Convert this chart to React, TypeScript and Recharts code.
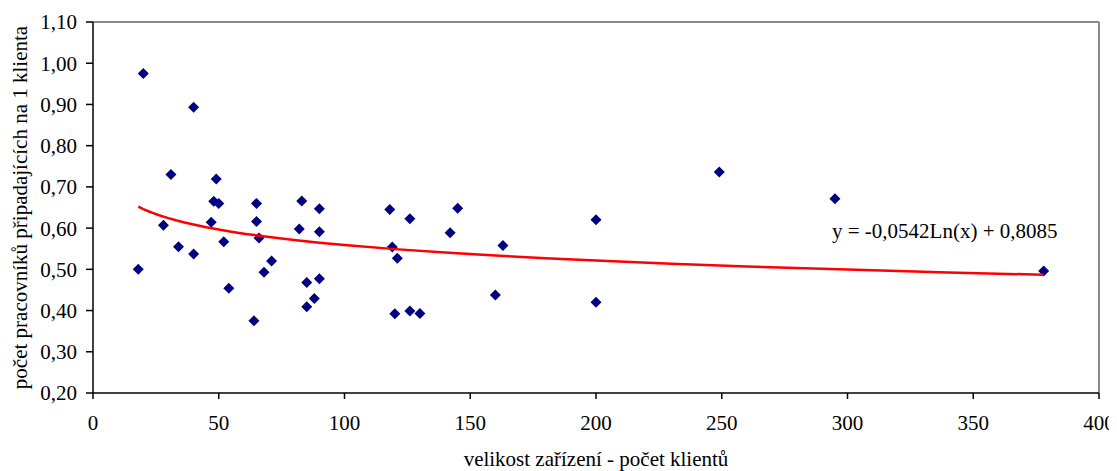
import React from 'react';
import { ScatterChart, Scatter, XAxis, YAxis, ReferenceLine, Label } from 'recharts';

const xValues = [18, 20, 28, 31, 34, 40, 40, 47, 48, 49, 50, 52, 54, 64, 65, 65, 66, 68, 71, 82, 83, 85, 85, 88, 90, 90, 90, 118, 119, 120, 121, 126, 126, 130, 142, 145, 160, 163, 200, 200, 249, 295, 378];
const yValues = [0.500, 0.975, 0.607, 0.730, 0.555, 0.893, 0.537, 0.614, 0.665, 0.719, 0.660, 0.567, 0.454, 0.375, 0.660, 0.616, 0.576, 0.493, 0.520, 0.598, 0.666, 0.468, 0.409, 0.429, 0.647, 0.591, 0.477, 0.645, 0.554, 0.392, 0.527, 0.623, 0.399, 0.393, 0.589, 0.648, 0.438, 0.558, 0.620, 0.420, 0.736, 0.671, 0.496];

// trendline as printed on the chart: y = -0,0542 Ln(x) + 0,8085
const trendSlope = -0.0542;
const trendIntercept = 0.8085;
const trendX = [18, 19, 20, 22, 24, 26, 28, 30, 33, 36, 40, 45, 50, 55, 60, 70, 80, 90, 100, 120, 140, 160, 180, 200, 230, 260, 300, 340, 378];

const xTicks = [0, 50, 100, 150, 200, 250, 300, 350, 400];
const yTicks = [0.2, 0.3, 0.4, 0.5, 0.6, 0.7, 0.8, 0.9, 1.0, 1.1];

const xTitle = 'velikost zařízení - počet klientů';
const yTitle = 'počet pracovníků připadajících na 1 klienta';
const equation = 'y = -0,0542Ln(x) + 0,8085';

const points = xValues.map((x, i) => ({ x, y: yValues[i] }));
const trend = trendX.map((x) => ({ x, y: trendSlope * Math.log(x) + trendIntercept }));

const FONT = "'Liberation Serif', 'Times New Roman', serif";
const textStyle = { fill: '#000', fontSize: 21, fontFamily: FONT };

const Diamond = (props: any) => {
  const { cx, cy } = props;
  const h = 5.5;
  return (
    <polygon
      points={`${cx},${cy - h} ${cx + h},${cy} ${cx},${cy + h} ${cx - h},${cy}`}
      fill="#000080"
    />
  );
};

const NoShape = () => <g />;

const fmtY = (v: number) => v.toFixed(2).replace('.', ',');

export default function App() {
  return (
    <div style={{ position: 'relative', width: 1109, height: 463, fontFamily: FONT }}>
      <ScatterChart
        width={1109}
        height={463}
        margin={{ top: 14, right: 18, left: 0, bottom: 0 }}
        style={{ fontFamily: FONT }}
      >
        <XAxis
          type="number"
          dataKey="x"
          domain={[0, 400]}
          ticks={xTicks}
          interval={0}
          height={78}
          tickSize={6}
          tickMargin={16}
          stroke="#000"
          strokeWidth={1.5}
          tick={{ ...textStyle, style: { fontFamily: FONT } }}
        >
          <Label
            value={xTitle}
            position="insideBottom"
            offset={5}
            fontFamily={FONT}
            style={textStyle}
          />
        </XAxis>
        <YAxis
          type="number"
          dataKey="y"
          domain={[0.2, 1.1]}
          ticks={yTicks}
          interval={0}
          width={85}
          tickSize={7}
          tickMargin={9}
          tickFormatter={fmtY}
          stroke="#000"
          strokeWidth={1.5}
          tick={{ ...textStyle, style: { fontFamily: FONT } }}
        >
          <Label
            content={(p: any) => {
              const vb = p.viewBox || { x: 0, y: 14, width: 85, height: 371 };
              const x = vb.x + 12;
              const y = vb.y + vb.height / 2;
              return (
                <text
                  x={x}
                  y={y}
                  transform={`rotate(-90, ${x}, ${y})`}
                  textAnchor="middle"
                  dominantBaseline="central"
                  fill="#000"
                  fontSize={21}
                  style={{ fontFamily: FONT }}
                >
                  {yTitle}
                </text>
              );
            }}
          />
        </YAxis>
        <ReferenceLine y={1.1} stroke="#888" strokeWidth={2} />
        <ReferenceLine x={400} stroke="#888" strokeWidth={2} />
        <Scatter data={points} shape={<Diamond />} isAnimationActive={false} />
        <Scatter
          data={trend}
          line={{ stroke: '#FF0000', strokeWidth: 2.5 }}
          lineType="joint"
          shape={<NoShape />}
          isAnimationActive={false}
        />
      </ScatterChart>
      <div
        style={{
          position: 'absolute',
          left: 824,
          top: 213,
          fontSize: 21,
          lineHeight: '21px',
          color: '#000',
          whiteSpace: 'nowrap',
          fontFamily: FONT,
        }}
      >
        {equation}
      </div>
    </div>
  );
}
